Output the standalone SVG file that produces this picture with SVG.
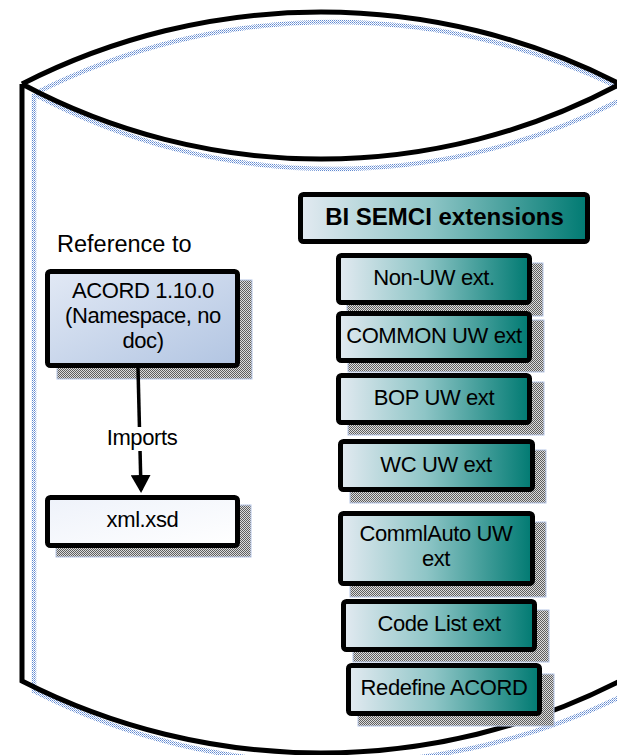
<svg xmlns="http://www.w3.org/2000/svg" width="617" height="755" viewBox="0 0 617 755">
<defs>
  <pattern id="grayDots" width="2" height="2" patternUnits="userSpaceOnUse">
    <rect width="2" height="2" fill="#dcdcdc"/>
    <rect x="0" y="0" width="1" height="1" fill="#5e5e5e"/>
    <rect x="1" y="1" width="1" height="1" fill="#5e5e5e"/>
  </pattern>
  <pattern id="blueDots" width="2" height="2" patternUnits="userSpaceOnUse">
    <rect x="0" y="0" width="1" height="1" fill="#5f88d0"/>
    <rect x="1" y="1" width="1" height="1" fill="#98b2e2"/>
  </pattern>
  <linearGradient id="tealGrad" x1="0" y1="0" x2="1" y2="0">
    <stop offset="0" stop-color="#e3eaf1"/>
    <stop offset="0.45" stop-color="#8ec5c6"/>
    <stop offset="1" stop-color="#007a72"/>
  </linearGradient>
  <linearGradient id="blueGrad" x1="0" y1="0" x2="1" y2="1">
    <stop offset="0" stop-color="#e2e9f5"/>
    <stop offset="1" stop-color="#b2c5e2"/>
  </linearGradient>
  <linearGradient id="whiteGrad" x1="0" y1="0" x2="1" y2="1">
    <stop offset="0" stop-color="#eef2fa"/>
    <stop offset="1" stop-color="#ffffff"/>
  </linearGradient>
  <marker id="arrow" viewBox="0 0 18 20" refX="15" refY="10" markerWidth="18" markerHeight="20" markerUnits="userSpaceOnUse" orient="auto">
    <path d="M0,0 L18,10 L0,20 z" fill="#000"/>
  </marker>
  <style>
    .box { stroke: #000; stroke-width: 5; }
    .shadow { fill: url(#grayDots); stroke: #b6c6e6; stroke-width: 1; }
    .teal { fill: url(#tealGrad); }
    .lbl { font-family: "Liberation Sans", Arial, sans-serif; font-size: 22px; letter-spacing: -0.4px; fill: #000; text-anchor: middle; }
    .cyl { fill: none; stroke: #000; stroke-width: 5; stroke-linejoin: miter; }
    .cylShadow { fill: none; stroke: url(#blueDots); stroke-width: 4.5; }
  </style>
</defs>

<g id="cylinder">
  <g transform="translate(12,10)">
    <path class="cylShadow" d="M22,84 A656.8,656.8 0 0 1 620,84 M22,84 A633.5,633.5 0 0 0 620,84 M22,84 L22,681 A656.8,656.8 0 0 0 620,681 L620,84"/>
  </g>
  <path class="cyl" d="M22,84 A656.8,656.8 0 0 1 620,84 M22,84 A633.5,633.5 0 0 0 620,84 M22,84 L22,681 A656.8,656.8 0 0 0 620,681 L620,84"/>
</g>

<g id="reference-label">
  <text x="57" y="252" font-family="Liberation Sans, Arial, sans-serif" font-size="23.5" fill="#000">Reference to</text>
</g>

<g id="acord">
  <rect class="shadow" x="57" y="280" width="195" height="99"/>
  <rect class="box" x="47.5" y="271.5" width="190" height="94" rx="3" fill="url(#blueGrad)"/>
  <text class="lbl" x="143" y="298">ACORD 1.10.0</text>
  <text class="lbl" x="143" y="323">(Namespace, no</text>
  <text class="lbl" x="143" y="348">doc)</text>
</g>

<g id="xmlxsd">
  <rect class="shadow" x="56" y="505" width="195" height="52"/>
  <rect class="box" x="47.5" y="497.5" width="190" height="48" rx="3" fill="url(#whiteGrad)"/>
  <text class="lbl" x="142.5" y="527">xml.xsd</text>
</g>

<g id="connectors">
  <path d="M138,368 L141,490" fill="none" stroke="#000" stroke-width="3.5" marker-end="url(#arrow)"/>
  <rect x="106" y="427" width="74" height="24" fill="#fff"/>
  <text class="lbl" x="142" y="445">Imports</text>
</g>

<g id="bi-semci">
  <rect class="box" x="300.5" y="194.5" width="287" height="47" rx="3" fill="url(#tealGrad)"/>
  <text x="444.5" y="225" font-family="Liberation Sans, Arial, sans-serif" font-size="24" font-weight="bold" text-anchor="middle" fill="#000">BI SEMCI extensions</text>
</g>

<g id="non-uw">
  <rect class="shadow" x="347" y="263" width="196" height="53"/>
  <rect class="box teal" x="338.5" y="255.5" width="191" height="47" rx="3"/>
  <text class="lbl" x="434" y="285">Non-UW ext.</text>
</g>

<g id="common-uw">
  <rect class="shadow" x="348" y="320" width="196" height="52"/>
  <rect class="box teal" x="338.5" y="313.5" width="191" height="47" rx="3"/>
  <text class="lbl" x="434" y="343">COMMON UW ext</text>
</g>

<g id="bop-uw">
  <rect class="shadow" x="348" y="382" width="196" height="53"/>
  <rect class="box teal" x="338.5" y="375.5" width="191" height="47" rx="3"/>
  <text class="lbl" x="434" y="405">BOP UW ext</text>
</g>

<g id="wc-uw">
  <rect class="shadow" x="350" y="450" width="196" height="53"/>
  <rect class="box teal" x="340.5" y="441.5" width="192" height="48" rx="3"/>
  <text class="lbl" x="436" y="472">WC UW ext</text>
</g>

<g id="commlauto-uw">
  <rect class="shadow" x="350" y="522" width="196" height="75"/>
  <rect class="box teal" x="340.5" y="513.5" width="192" height="70" rx="3"/>
  <text class="lbl" x="436" y="541">CommlAuto UW</text>
  <text class="lbl" x="436" y="566">ext</text>
</g>

<g id="code-list">
  <rect class="shadow" x="353" y="610" width="196" height="52"/>
  <rect class="box teal" x="343.5" y="601.5" width="191" height="48" rx="3"/>
  <text class="lbl" x="439" y="631">Code List ext</text>
</g>

<g id="redefine-acord">
  <rect class="shadow" x="358" y="674" width="196" height="52"/>
  <rect class="box teal" x="348.5" y="665.5" width="191" height="48" rx="3"/>
  <text class="lbl" x="444" y="695">Redefine ACORD</text>
</g>
</svg>
